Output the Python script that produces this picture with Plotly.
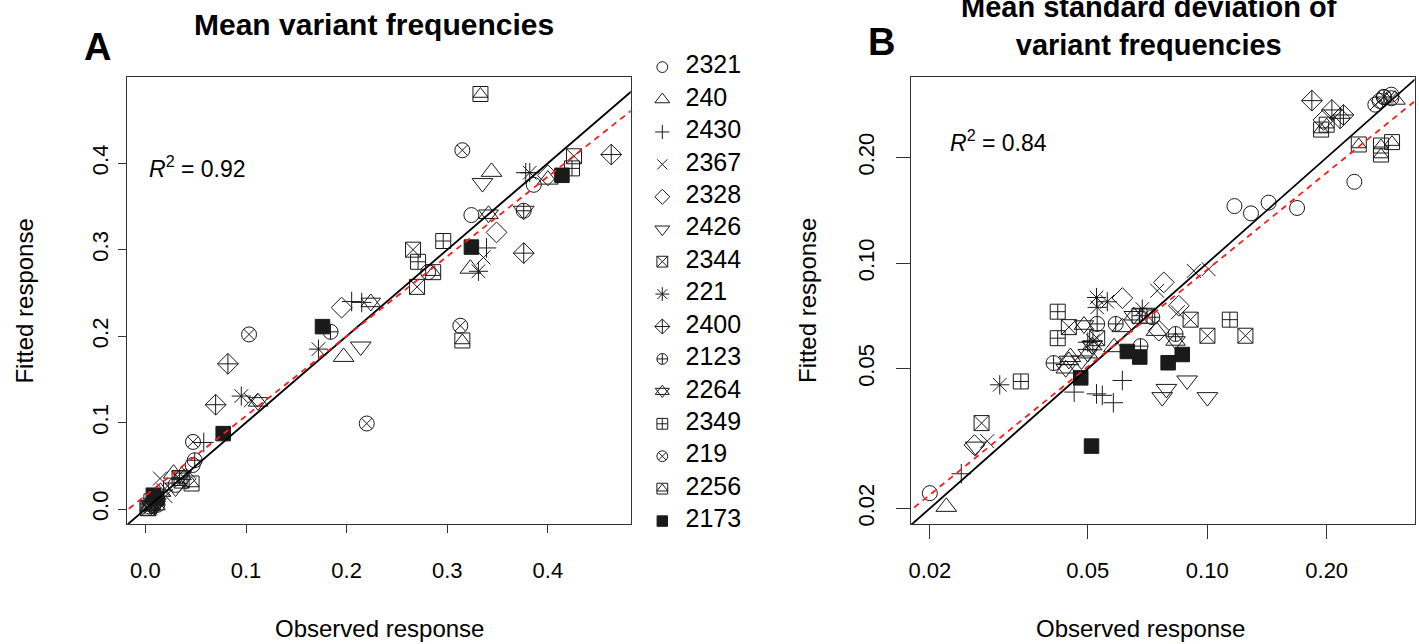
import numpy as np
import plotly.graph_objects as go

W, H = 1419, 644

# Series (sample) labels in legend order
series_labels = ["2321", "240", "2430", "2367", "2328", "2426", "2344", "221",
                 "2400", "2123", "2264", "2349", "219", "2256", "2173"]

# Panel A: mean variant frequencies (observed vs fitted), long format
mean_series = (["2321"] * 7 + ["240"] * 7 + ["2430"] * 6 + ["2367"] * 5 + ["2328"] * 5 +
               ["2426"] * 5 + ["2344"] * 5 + ["221"] * 6 + ["2400"] * 5 + ["2123"] * 4 +
               ["2264"] * 5 + ["2349"] * 5 + ["219"] * 6 + ["2256"] * 5 + ["2173"] * 6)
mean_observed = [
    0.324, 0.386, 0.281, 0.047, 0.012, 0.004, 0.030,          # 2321
    0.344, 0.400, 0.323, 0.197, 0.028, 0.015, 0.005,          # 240
    0.378, 0.339, 0.205, 0.215, 0.058, 0.009,                 # 2430
    0.336, 0.105, 0.0145, 0.020, 0.005,                       # 2367
    0.400, 0.349, 0.195, 0.040, 0.008,                        # 2328
    0.335, 0.376, 0.214, 0.030, 0.006,                        # 2426
    0.426, 0.266, 0.270, 0.036, 0.003,                        # 2344
    0.382, 0.331, 0.172, 0.0953, 0.018, 0.004,                # 221
    0.463, 0.376, 0.082, 0.0698, 0.010,                       # 2400
    0.376, 0.184, 0.049, 0.012,                               # 2123
    0.341, 0.224, 0.112, 0.036, 0.010,                        # 2264
    0.296, 0.271, 0.424, 0.034, 0.006,                        # 2349
    0.315, 0.313, 0.220, 0.103, 0.0473, 0.008,                # 219
    0.333, 0.315, 0.286, 0.0459, 0.002,                       # 2256
    0.414, 0.324, 0.176, 0.0773, 0.0079, 0.011,               # 2173
]
mean_fitted = [
    0.340, 0.375, 0.274, 0.051, 0.010, 0.003, 0.028,          # 2321
    0.390, 0.381, 0.278, 0.176, 0.041, 0.020, 0.004,          # 240
    0.389, 0.302, 0.240, 0.239, 0.077, 0.012,                 # 2430
    0.291, 0.126, 0.0354, 0.015, 0.002,                       # 2367
    0.386, 0.320, 0.233, 0.035, 0.006,                        # 2328
    0.377, 0.345, 0.188, 0.025, 0.004,                        # 2426
    0.408, 0.300, 0.257, 0.033, 0.001,                        # 2344
    0.389, 0.275, 0.185, 0.1307, 0.022, 0.006,                # 221
    0.410, 0.296, 0.168, 0.1207, 0.012,                       # 2400
    0.345, 0.205, 0.0565, 0.005,                              # 2123
    0.341, 0.239, 0.124, 0.039, 0.004,                        # 2264
    0.310, 0.286, 0.394, 0.036, 0.009,                        # 2349
    0.415, 0.212, 0.099, 0.202, 0.0777, 0.004,                # 219
    0.480, 0.195, 0.274, 0.0296, 0.0015,                      # 2256
    0.386, 0.303, 0.211, 0.0873, 0.0161, 0.012,               # 2173
]

# Panel B: mean standard deviation of variant frequencies, long format
sd_series = (["2321"] * 7 + ["240"] * 6 + ["2430"] * 7 + ["2367"] * 5 + ["2328"] * 6 +
             ["2426"] * 7 + ["2344"] * 7 + ["221"] * 6 + ["2400"] * 4 + ["2123"] * 7 +
             ["2264"] * 7 + ["2349"] * 5 + ["219"] * 4 + ["2256"] * 6 + ["2173"] * 6)
sd_observed = [
    0.0200, 0.1171, 0.1289, 0.1428, 0.1684, 0.2348, 0.2909,                  # 2321
    0.0220, 0.0582, 0.0611, 0.0452, 0.0745, 0.2972,                          # 240
    0.0240, 0.0462, 0.0526, 0.0544, 0.0580, 0.0611, 0.0500,                  # 2430
    0.0279, 0.0748, 0.0843, 0.0925, 0.1008,                                  # 2367
    0.0259, 0.0611, 0.0777, 0.0848, 0.0755, 0.1963,                          # 2328
    0.0261, 0.0482, 0.0770, 0.0789, 0.0890, 0.1001, 0.0513,                  # 2426
    0.0270, 0.0448, 0.0528, 0.0706, 0.0908, 0.1001, 0.1248,                  # 2344
    0.0300, 0.0526, 0.0528, 0.0560, 0.0686, 0.0515,                          # 221
    0.1835, 0.2061, 0.2204, 0.2163,                                          # 2400
    0.0410, 0.0528, 0.0588, 0.0679, 0.0727, 0.0832, 0.2787,                  # 2123
    0.0448, 0.0440, 0.0489, 0.0513, 0.0653, 0.0832, 0.0500,                  # 2264
    0.0339, 0.0420, 0.0420, 0.0675, 0.1140,                                  # 2349
    0.2652, 0.2787, 0.2909, 0.2720,                                          # 219
    0.1936, 0.2409, 0.2740, 0.2740, 0.2922, 0.2000,                          # 2256
    0.0480, 0.0511, 0.0629, 0.0676, 0.0797, 0.0865,                          # 2173
]
sd_fitted = [
    0.0221, 0.1454, 0.1386, 0.1487, 0.1436, 0.1705, 0.3020,                  # 2321
    0.0202, 0.0576, 0.0657, 0.0540, 0.0641, 0.2922,                          # 240
    0.0251, 0.0429, 0.0424, 0.0420, 0.0400, 0.0463, 0.0595,                  # 2430
    0.0311, 0.0834, 0.0724, 0.0950, 0.0961,                                  # 2367
    0.0303, 0.0795, 0.0881, 0.0756, 0.0642, 0.2559,                          # 2328
    0.0300, 0.0528, 0.0415, 0.0438, 0.0463, 0.0415, 0.0582,                  # 2426
    0.0350, 0.0657, 0.0611, 0.0708, 0.0690, 0.0621, 0.0621,                  # 2344
    0.0450, 0.0798, 0.0748, 0.0776, 0.0740, 0.0600,                          # 221
    0.2904, 0.2732, 0.2644, 0.2586,                                          # 2400
    0.0519, 0.0671, 0.0671, 0.0580, 0.0701, 0.0628, 0.2974,                  # 2123
    0.0528, 0.0500, 0.0666, 0.0582, 0.0708, 0.0600, 0.0552,                  # 2264
    0.0460, 0.0727, 0.0611, 0.0708, 0.0690,                                  # 2349
    0.2828, 0.2974, 0.2950, 0.2900,                                          # 219
    0.2402, 0.2178, 0.2163, 0.2039, 0.2212, 0.2480,                          # 2256
    0.0471, 0.0301, 0.0560, 0.0540, 0.0520, 0.0549,                          # 2173
]

# Fitted regression of fitted on observed (red dashed) and goodness of fit
fit_mean_intercept, fit_mean_slope, r2_mean = 0.0156, 0.922, 0.92
fit_sd_log_intercept, fit_sd_log_slope, r2_sd = -0.1006, 0.918, 0.84

# Marker glyphs per series (several glyphs are overlaid for compound symbols)
glyphs = {
    "2321": [("circle-open", 15)],
    "240": [("triangle-up-open", 18)],
    "2430": [("cross-thin-open", 14)],
    "2367": [("x-thin-open", 14)],
    "2328": [("diamond-open", 16)],
    "2426": [("triangle-down-open", 18)],
    "2344": [("square-x-open", 15)],
    "221": [("asterisk-open", 16)],
    "2400": [("diamond-cross-open", 16)],
    "2123": [("circle-cross-open", 15)],
    "2264": [("triangle-up-open", 17), ("triangle-down-open", 17)],
    "2349": [("square-cross-open", 15)],
    "219": [("circle-x-open", 15)],
    "2256": [("square-open", 15), ("triangle-up-open", 13)],
    "2173": [("square", 14.5)],
}
INK = "#1a1a1a"
FONT = "Liberation Sans, Arial, Helvetica, sans-serif"

fig = go.Figure()


def add_points(series, xs, ys, xaxis, yaxis):
    s = np.array(series)
    xs = np.array(xs)
    ys = np.array(ys)
    for lab in series_labels:
        m = s == lab
        for sym, size in glyphs[lab]:
            fig.add_trace(go.Scatter(
                x=xs[m], y=ys[m], mode="markers", xaxis=xaxis, yaxis=yaxis,
                showlegend=False, hoverinfo="skip",
                marker=dict(symbol=sym, size=size, color=INK,
                            line=dict(width=1, color=INK)),
            ))


add_points(mean_series, mean_observed, mean_fitted, "x", "y")
add_points(sd_series, sd_observed, sd_fitted, "x2", "y2")

# Panel A reference lines
xa_range = [-0.01785, 0.4823]
ya_range = [-0.01764, 0.4996]
xl = np.array([xa_range[0] - 0.05, xa_range[1] + 0.05])
fig.add_trace(go.Scatter(x=xl, y=xl, mode="lines", xaxis="x", yaxis="y",
                         line=dict(color="black", width=1.8), showlegend=False, hoverinfo="skip"))
fig.add_trace(go.Scatter(x=xl, y=fit_mean_intercept + fit_mean_slope * xl, mode="lines",
                         xaxis="x", yaxis="y", showlegend=False, hoverinfo="skip",
                         line=dict(color="#ff1a1a", width=1.8, dash="6px,5px")))

# Panel B reference lines (log-log)
xb_range = [-1.7463, -0.4777]
yb_range = [-1.7445, -0.4698]
xlb = np.logspace(xb_range[0] - 0.1, xb_range[1] + 0.1, 60)
fig.add_trace(go.Scatter(x=xlb, y=xlb, mode="lines", xaxis="x2", yaxis="y2",
                         line=dict(color="black", width=1.8), showlegend=False, hoverinfo="skip"))
fig.add_trace(go.Scatter(x=xlb, y=10 ** fit_sd_log_intercept * xlb ** fit_sd_log_slope,
                         mode="lines", xaxis="x2", yaxis="y2", showlegend=False, hoverinfo="skip",
                         line=dict(color="#ff1a1a", width=1.8, dash="6px,5px")))

# Legend drawn on its own blank axis pair
leg_rows = np.arange(len(series_labels))
for lab, row in zip(series_labels, leg_rows):
    for sym, size in glyphs[lab]:
        fig.add_trace(go.Scatter(
            x=[20.7], y=[row], mode="markers", xaxis="x3", yaxis="y3",
            showlegend=False, hoverinfo="skip",
            marker=dict(symbol=sym, size=size * 0.72, color=INK, line=dict(width=1, color=INK)),
        ))
fig.add_trace(go.Scatter(
    x=[44] * len(series_labels), y=leg_rows, mode="text", text=series_labels,
    textposition="middle right", xaxis="x3", yaxis="y3", showlegend=False, hoverinfo="skip",
    textfont=dict(family=FONT, size=25, color="black"),
))

axis_common = dict(showline=True, mirror=True, linecolor="#333", linewidth=1,
                   ticks="outside", tickcolor="#333", tickwidth=1,
                   showgrid=False, zeroline=False,
                   tickfont=dict(family=FONT, size=22, color="black"))


def px_x(a, b):
    return [a / W, b / W]


def px_y(top, bottom):
    return [1 - bottom / H, 1 - top / H]


fig.update_layout(
    width=W, height=H, margin=dict(l=0, r=0, t=0, b=0),
    paper_bgcolor="white", plot_bgcolor="white",
    xaxis=dict(domain=px_x(124.7, 629), range=xa_range, anchor="y", ticklen=8,
               tickvals=[0, 0.1, 0.2, 0.3, 0.4], ticktext=["0.0", "0.1", "0.2", "0.3", "0.4"],
               ticklabelstandoff=18, **axis_common),
    yaxis=dict(domain=px_y(77.3, 526), range=ya_range, anchor="x", ticklen=8,
               tickvals=[0, 0.1, 0.2, 0.3, 0.4], ticktext=["0.0", "0.1", "0.2", "0.3", "0.4"],
               tickangle=-90, ticklabelstandoff=2, **axis_common),
    xaxis2=dict(domain=px_x(910, 1414.5), range=xb_range, type="log", anchor="y2", ticklen=14,
                tickvals=[0.02, 0.05, 0.1, 0.2], ticktext=["0.02", "0.05", "0.10", "0.20"],
                ticklabelstandoff=12, **axis_common),
    yaxis2=dict(domain=px_y(77.3, 526), range=yb_range, type="log", anchor="x2", ticklen=14,
                tickvals=[0.02, 0.05, 0.1, 0.2], ticktext=["0.02", "0.05", "0.10", "0.20"],
                tickangle=-90, ticklabelstandoff=13, **axis_common),
    xaxis3=dict(domain=px_x(640, 780), range=[0, 140], visible=False, fixedrange=True),
    yaxis3=dict(domain=px_y(50, 540), range=[len(series_labels) - 1 + 0.532, -0.532],
                visible=False, fixedrange=True, anchor="x3"),
)


def note(text, x, y, size, bold=False, angle=0, xref="paper", yref="paper", xanchor="center"):
    return dict(text=f"<b>{text}</b>" if bold else text, x=x, y=y, xref=xref, yref=yref,
                xanchor=xanchor, yanchor="middle", textangle=angle, showarrow=False,
                font=dict(family=FONT, size=size, color="black"))


ann = [
    # Titles and panel letters
    note("Mean variant frequencies", 372 / W, 1 - 25 / H, 30, bold=True),
    note("Mean standard deviation of<br>variant frequencies", 1148 / W, 1 - 26 / H, 29, bold=True),
    note("A", 95 / W, 1 - 47 / H, 38, bold=True),
    note("B", 880 / W, 1 - 42 / H, 38, bold=True),
    # Axis titles
    note("Observed response", 376.8 / W, 1 - 630 / H, 24),
    note("Observed response", 1140 / W, 1 - 630 / H, 24),
    note("Fitted response", 22 / W, 1 - 301.6 / H, 24, angle=-90),
    note("Fitted response", 806 / W, 1 - 301.6 / H, 24, angle=-90),
    # Goodness of fit labels
    note(f"<i>R</i><sup>2</sup> = {r2_mean:.2f}", 0.038, 0.80, 23,
         xref="x domain", yref="y domain", xanchor="left"),
    note(f"<i>R</i><sup>2</sup> = {r2_sd:.2f}", 0.073, 0.858, 23,
         xref="x2 domain", yref="y2 domain", xanchor="left"),
]
fig.update_layout(annotations=ann)

fig.write_html("out.html")
